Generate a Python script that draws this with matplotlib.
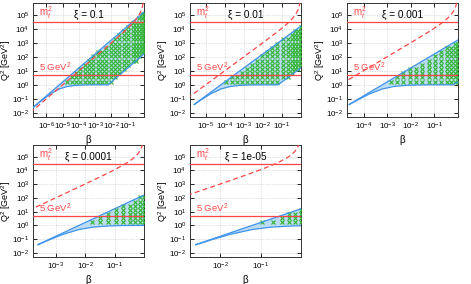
import numpy as np
import matplotlib
matplotlib.use('Agg')
import matplotlib.pyplot as plt
from matplotlib.ticker import FixedLocator, FuncFormatter, NullLocator

plt.rcParams['font.family'] = ['Liberation Sans', 'DejaVu Sans']
plt.rcParams['mathtext.fontset'] = 'custom'
plt.rcParams['mathtext.rm'] = 'Liberation Sans'
plt.rcParams['mathtext.it'] = 'Liberation Sans:italic'
plt.rcParams['mathtext.bf'] = 'Liberation Sans:bold'

# ---------------- data ----------------
xi_labels = ["0.1", "0.01", "0.001", "0.0001", "1e-05"]
x_min = [1.5e-7, 1.5e-6, 2e-5, 1.7e-4, 1.8e-3]

# upper boundary of accessible region
beta_up = [[1.1e-7, 1.0], [2.5e-6, 1.0], [2.5e-5, 1.0], [2.5e-4, 1.0], [2.5e-3, 1.0]]
q2_up = [[0.0176, 1.6e5], [0.04, 1.6e4], [0.04, 1600], [0.04, 160], [0.04, 16]]

# lower boundary
beta_low = [
    [1.1e-7, 6.25e-7, 1.875e-6, 6.25e-6, 1.875e-5, 6.25e-5, 1.875e-4, 6.25e-4, 6.25e-3, 1.0],
    [2.5e-6, 6.25e-6, 1.875e-5, 6.25e-5, 1.875e-4, 6.25e-4, 1.875e-3, 6.25e-3, 6.25e-2, 1.0],
    [2.5e-5, 6.25e-5, 1.875e-4, 6.25e-4, 1.875e-3, 6.25e-3, 1.875e-2, 6.25e-2, 0.625, 1.0],
    [2.5e-4, 6.25e-4, 1.875e-3, 6.25e-3, 1.875e-2, 6.25e-2, 0.1875, 1.0],
    [2.5e-3, 6.25e-3, 1.875e-2, 6.25e-2, 0.1875, 0.625, 1.0],
]
q2_low = [
    [0.0173, 0.0909, 0.231, 0.5, 0.75, 0.909, 0.968, 0.990, 1.0, 160],
    [0.0385, 0.0909, 0.231, 0.5, 0.75, 0.909, 0.968, 0.990, 1.0, 16],
    [0.0385, 0.0909, 0.231, 0.5, 0.75, 0.909, 0.968, 0.990, 1.0, 1.6],
    [0.0385, 0.0909, 0.231, 0.5, 0.75, 0.909, 0.968, 0.994],
    [0.0385, 0.0909, 0.231, 0.5, 0.75, 0.909, 0.941],
]

# dashed curve (same for all panels)
beta_dash = [1e-7, 1e-6, 1e-5, 1e-4, 1e-3, 1e-2, 0.05, 0.1, 0.2, 0.3, 0.4, 0.5,
             0.6, 0.7, 0.8, 0.85, 0.9]
q2_dash = [0.01, 0.1, 1.0, 10, 100, 1010, 5263, 11110, 25000, 42860, 66670,
           1e5, 1.5e5, 2.33e5, 4e5, 5.67e5, 9e5]

# horizontal reference lines
q2_mt2 = 3.0e4
q2_5gev = 5.0

# grid of simulated points
grid_beta = [1.04e-5, 1.93e-5, 3.6e-5, 6.6e-5, 1.22e-4, 2.26e-4, 4.2e-4, 7.7e-4,
             1.43e-3, 2.65e-3, 4.9e-3, 9.1e-3, 0.0168, 0.031, 0.058, 0.11, 0.2,
             0.33, 0.51, 0.73, 0.98]
grid_q2 = [1.7, 3.4, 6.8, 13.5, 27, 54, 108, 216, 432, 864, 1730, 3460, 6900,
           13800, 27600, 55000, 110000]

# ---------------- style ----------------
RED = '#ff4747'
BLUE = '#3f93ea'
FILL = '#bcdcf5'
GREEN = '#2fb52f'

W, H = 471, 284
pos = [(33, 3, 114), (190, 3, 114), (347, 3, 114), (33, 145, 112), (190, 145, 112)]
fig = plt.figure(figsize=(W / 100, H / 100), dpi=100)

fmt = FuncFormatter(lambda v, _: r'$10^{%d}$' % int(round(np.log10(v))))

for i in range(5):
    left, top, h = pos[i]
    ax = fig.add_axes([left / W, 1 - (top + h) / H, 111 / W, h / H])
    ax.set_xscale('log')
    ax.set_yscale('log')
    ax.set_xlim(x_min[i], 1.0)
    ax.set_ylim(5e-3, 7e5)

    bu = np.array(beta_up[i]); qu = np.array(q2_up[i])
    bl = np.array(beta_low[i]); ql = np.array(q2_low[i])
    poly_b = np.concatenate([bu, bl[::-1]])
    poly_q = np.concatenate([qu, ql[::-1]])
    ax.fill(poly_b, poly_q, color=FILL, lw=0, zorder=2)

    # markers inside region
    gb, gq = np.meshgrid(np.array(grid_beta), np.array(grid_q2))
    gb = gb.ravel(); gq = gq.ravel()
    lu = np.interp(np.log10(gb), np.log10(bu), np.log10(qu), left=np.nan, right=np.nan)
    ll = np.interp(np.log10(gb), np.log10(bl), np.log10(ql), left=np.nan, right=np.nan)
    m = (np.log10(gq) <= lu) & (np.log10(gq) >= ll)
    ax.plot(gb[m], gq[m], 'x', color=GREEN, ms=2.6, mew=0.8, zorder=3)

    ax.plot(bu, qu, color=BLUE, lw=0.9, zorder=4)
    ax.plot(bl, ql, color=BLUE, lw=0.9, zorder=4)

    ax.axhline(q2_mt2, color=RED, lw=0.9, zorder=5)
    ax.axhline(q2_5gev, color=RED, lw=0.9, zorder=5)
    ax.plot(beta_dash, q2_dash, color=RED, lw=0.9, ls=(0, (4, 2.5)), zorder=5)

    ax.text(0.05, q2_mt2 * 1.15, r'm$_t^2$', color=RED, fontsize=7,
            transform=ax.get_yaxis_transform(), va='bottom', ha='left')
    ax.text(0.05, q2_5gev * 1.1, r'5 GeV$^2$', color=RED, fontsize=6.8,
            transform=ax.get_yaxis_transform(), va='bottom', ha='left')
    ax.text(0.5, 0.94, u'\u03be = ' + xi_labels[i], fontsize=7.2,
            transform=ax.transAxes, ha='center', va='top')

    lo = int(np.ceil(np.log10(x_min[i])))
    ax.xaxis.set_major_locator(FixedLocator([10.0 ** k for k in range(lo, 0)]))
    ax.yaxis.set_major_locator(FixedLocator([10.0 ** k for k in range(-2, 6)]))
    ax.xaxis.set_minor_locator(NullLocator())
    ax.yaxis.set_minor_locator(NullLocator())
    ax.xaxis.set_major_formatter(fmt)
    ax.yaxis.set_major_formatter(fmt)
    ax.tick_params(direction='in', top=True, right=True, length=3, width=0.6,
                   labelsize=5.8, pad=2.5)
    ax.grid(True, color='#c4c4c4', ls=(0, (1, 1.5)), lw=0.5)
    ax.set_axisbelow(True)
    for sp in ax.spines.values():
        sp.set_linewidth(0.7)
        sp.set_color('#333333')
    ax.set_xlabel(u'\u03b2', fontsize=7, labelpad=2)
    ax.set_ylabel(r'Q$^2$ [GeV$^2$]', fontsize=6.5)
    ax.yaxis.set_label_coords(-20 / 111, 0.5)

fig.savefig('out.png', dpi=100)
